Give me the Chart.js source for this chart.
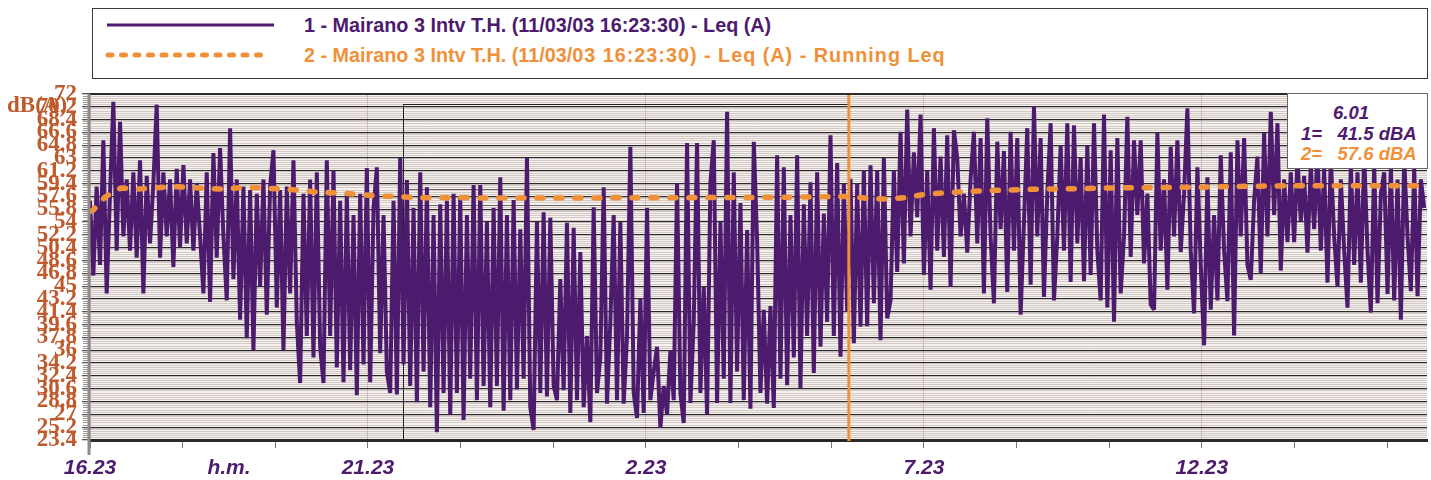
<!DOCTYPE html>
<html>
<head>
<meta charset="utf-8">
<script src="https://cdn.jsdelivr.net/npm/chart.js@4.4.0/dist/chart.umd.min.js"></script>
<style>
  body { margin: 0; background: #fff; }
  #wrap { position: relative; width: 1431px; height: 480px; overflow: hidden; }
  #chart { position: absolute; left: 0; top: 0; }
  #legend {
    position: absolute; left: 92px; top: 8px; width: 1336px; height: 71px;
    border: 1.5px solid #3a3a3a; box-sizing: border-box; background: #fff;
    font-family: "Liberation Sans", Arial, sans-serif; font-weight: bold; font-size: 19.8px;
  }
  .row { position: absolute; left: 0; height: 24px; width: 100%; }
  .row svg { position: absolute; left: 12px; top: 0; }
  .row span { position: absolute; left: 211px; top: 1px; white-space: nowrap; }
  .row span i { font-style: normal; letter-spacing: 1px; }
  #valbox {
    position: absolute; left: 1287px; top: 93px; width: 141px; height: 76px;
    border: 1.5px solid #666; box-sizing: border-box; background: #fff;
    font-family: "Liberation Sans", Arial, sans-serif; font-weight: bold; font-style: italic; font-size: 18.5px;
  }
  #valbox div { position: absolute; white-space: pre; }
</style>
</head>
<body>
<div id="wrap">
  <canvas id="chart" width="1431" height="480"></canvas>
  <div id="legend">
    <div class="row" style="top:4px">
      <svg width="180" height="24"><line x1="2" y1="12" x2="169" y2="12" stroke="#4d1b6e" stroke-width="3"/></svg>
      <span id="lab1" style="color:#4d1b6e"></span>
    </div>
    <div class="row" style="top:34px">
      <svg width="180" height="24"><line x1="3" y1="12" x2="165" y2="12" stroke="#f0913a" stroke-width="5" stroke-dasharray="4 9.5" stroke-linecap="round"/></svg>
      <span id="lab2" style="color:#f0913a"></span>
    </div>
  </div>
  <div id="valbox">
    <div id="vTime" style="left:45px; top:8px; color:#4d1b6e"></div>
    <div id="v1" style="left:13px; top:29px; color:#4d1b6e"></div>
    <div id="v2" style="left:13px; top:49px; color:#f0913a"></div>
  </div>
</div>
<script>
// series names
const seriesNames = [
  "1 - Mairano 3 Intv T.H. (11/03/03 16:23:30) - Leq (A)",
  "2 - Mairano 3 Intv T.H. (11/03/03 16:23:30) - Leq (A) - Running Leq"
];

// Leq (A), one value every 0.06 h starting at 16.23
const stepHours = 0.06;
const leqA = [
  57, 46.5, 59, 48, 65.5, 44, 58, 70.9, 50, 68.1,
  52, 60, 50, 61, 49, 62.7, 44, 60.5, 51, 59.5,
  70.5, 49, 61, 52, 60, 47.7, 61.5, 50.5, 62, 51,
  60, 50, 59.5, 52, 44, 61, 42.8, 63.7, 49, 64.4,
  52, 43, 67.2, 46, 60, 40.3, 59, 37.7, 58.5, 36,
  58, 45, 60, 41, 59, 64.1, 42, 58.5, 36, 59,
  44, 62.7, 40, 31.4, 58, 38, 60, 35, 61, 36.5,
  31.4, 62.7, 38, 61.2, 33.6, 57, 31.5, 58, 33.2, 55,
  29.7, 58, 34, 61.6, 31.5, 56, 61.7, 35.6, 55, 33,
  30, 57, 29.8, 63, 34, 59.9, 31, 56, 28.7, 61,
  33, 58.9, 28, 55, 24.5, 56.5, 30, 57, 27, 58,
  30, 57.5, 26.2, 55, 32, 59.2, 29, 59.2, 31, 54,
  28, 56, 31, 60.3, 27.5, 55, 29, 57.1, 30.5, 53,
  32, 63, 28, 24.8, 54, 30, 55.4, 29.5, 54.6, 31,
  29, 46, 30.4, 53.9, 27.2, 53.2, 29, 49.8, 28, 38,
  25.9, 56.1, 30, 35, 58.9, 28.5, 40, 55, 29, 54,
  28.5, 38, 64.6, 30, 26.5, 43.3, 27.2, 56, 29, 33,
  36.5, 25.1, 31, 27, 36, 29, 59.5, 30, 25.8, 65.1,
  28.6, 40, 65.1, 30, 44.9, 27, 59.5, 65.5, 28.6, 54,
  32, 69.5, 28.6, 61, 33, 56.7, 29, 52.9, 27.8, 65.3,
  51.5, 30, 41.7, 28.5, 42.2, 27.9, 63.4, 32, 61.7, 31.1,
  55, 35, 63.4, 30.7, 56.5, 38, 59.6, 32.8, 61, 36.5,
  55.2, 40, 66.2, 38, 62.3, 35.1, 59.4, 41.5, 60.1, 37,
  59.4, 39.3, 61.3, 39.4, 62, 42.6, 61.2, 37.4, 63, 40.5,
  43, 61.2, 47, 66.7, 48.2, 69.8, 52, 63.8, 54.7, 69.1,
  46.6, 61.2, 44.5, 67.2, 50, 63.2, 49.1, 66.2, 44.9, 66.9,
  63, 52, 58, 49.7, 60, 66.7, 51, 65.8, 44, 68.6,
  52, 42.6, 65.3, 53, 64, 44.2, 66.7, 50, 65.8, 41,
  54, 67.2, 45.2, 70.2, 52, 65.8, 43.5, 58, 67.9, 43,
  52, 64.8, 50, 67.9, 45.6, 67.6, 51, 63, 45.7, 64.8,
  46.6, 67.9, 50, 43, 69.1, 42, 64.1, 40, 65.8, 44,
  52, 68.8, 49.1, 65.5, 55, 65.5, 48.2, 58, 42.4, 41.7,
  66.5, 50, 60, 44.5, 64.6, 52, 65.5, 49.8, 58, 70,
  50, 41.2, 61.7, 48, 36.7, 60.3, 41.7, 55, 43, 63.4,
  50, 42.9, 63.8, 38.1, 65.5, 52, 65.8, 48, 45.9, 57,
  63.2, 46.8, 66.5, 52, 69.5, 55, 67.9, 47.2, 60, 51.2,
  61, 51.2, 63, 54, 60.5, 49.7, 62, 53, 64, 50,
  61.5, 45.5, 63, 52, 44.9, 60, 50, 42, 62, 48,
  61, 45.5, 63.5, 50, 41.3, 62, 42.6, 58, 61, 43.9,
  62, 43, 60, 40.3, 63, 52, 44.3, 61.5, 43.6, 60,
  56
];

// running Leq, hours after 16.23
const runHours = [0, 0.06, 0.14, 0.27, 0.41, 0.56, 0.86, 1.17, 1.44, 1.76, 2.12, 2.43, 2.79, 3.08, 3.43,
  3.78, 4.10, 4.46, 4.77, 5.13, 5.49, 5.85, 7.0, 9.0, 11.0, 12.6, 13.65, 14.05, 14.41, 14.72, 15.04,
  15.36, 15.72, 16.08, 16.44, 17.1, 17.75, 18.3, 19.0, 19.9, 20.47, 21.44, 22.5, 24.0];
const runLeq = [55.5, 55.7, 56.4, 57.5, 58.2, 58.8, 58.65, 58.8, 59.0, 58.9, 58.7, 58.65, 58.9, 58.8, 58.65,
  58.5, 58.2, 58.1, 57.95, 57.7, 57.6, 57.45, 57.4, 57.4, 57.45, 57.5, 57.6, 57.3, 57.25, 57.5, 57.95,
  58.1, 58.3, 58.4, 58.5, 58.65, 58.7, 58.8, 58.85, 58.9, 59.0, 59.1, 59.1, 59.1];

// axes
const yTicks = [72, 70.2, 68.4, 66.6, 64.8, 63, 61.2, 59.4, 57.6, 55.8, 54, 52.2, 50.4, 48.6,
  46.8, 45, 43.2, 41.4, 39.6, 37.8, 36, 34.2, 32.4, 30.6, 28.8, 27, 25.2, 23.4];
const yUnit = "dB(A)";
const xEndHours = 24.05;
const xLabelHours = [0, 5, 10, 15, 20];
const xLabelText = ["16.23", "21.23", "2.23", "7.23", "12.23"];
const xUnitHours = 2.5;
const xUnitText = "h.m.";

// cursor and zoom window
const cursorHours = 13.65;
const cursorText = "6.01";
const cursorValues = [41.5, 57.6];
const zoomFrom = 5.63;
const zoomTop = 70.6;
const bandLow = 56.4;
const bandHigh = 58.65;

document.querySelector("#lab1").textContent = seriesNames[0];
// the second label is a little wider after the date in the original
let cut = seriesNames[1].indexOf("03 16");
document.querySelector("#lab2").innerHTML = seriesNames[1].slice(0, cut) + "<i>" + seriesNames[1].slice(cut) + "</i>";
document.querySelector("#vTime").textContent = cursorText;
document.querySelector("#v1").textContent = "1=   " + cursorValues[0] + " dBA";
document.querySelector("#v2").textContent = "2=   " + cursorValues[1] + " dBA";

let purple = "#4d1b6e";
let orange = "#f0913a";
let brown = "#bf5a2c";

let leqPoints = leqA.map((v, i) => ({x: i * stepHours, y: v}));
let runPoints = runHours.map((h, i) => ({x: h, y: runLeq[i]}));
let minorTicks = [];
for (let i = 0; i <= 162; i++) {
  if (i % 6 != 0) minorTicks.push(+(23.4 + i * 0.3).toFixed(1));
}
let xTicks = [xUnitHours];
for (let k = 0; k * 5 / 3 < xEndHours; k++) xTicks.push(k * 5 / 3);
xTicks.sort((a, b) => a - b);

function isLabelHour(v) {
  return xLabelHours.some(h => Math.abs(h - v) < 0.001);
}

const extras = {
  id: "extras",
  beforeDraw(chart) {
    let {ctx, chartArea: a} = chart;
    ctx.save();
    ctx.fillStyle = "#f5f1ef";
    ctx.fillRect(a.left, a.top, a.right - a.left, a.bottom - a.top);
    ctx.restore();
  },
  beforeDatasetsDraw(chart) {
    let {ctx, scales} = chart;
    let x1 = scales.x.getPixelForValue(zoomFrom);
    let x2 = scales.x.getPixelForValue(cursorHours);
    let yt = scales.y.getPixelForValue(zoomTop);
    let yb = scales.y.getPixelForValue(23.4);
    ctx.save();
    ctx.strokeStyle = "#222";
    ctx.lineWidth = 1;
    ctx.strokeRect(Math.round(x1) + 0.5, Math.round(yt) + 0.5, x2 - x1, yb - yt);
    ctx.strokeStyle = "#6a6262";
    ctx.beginPath();
    [bandLow, bandHigh].forEach(v => {
      let y = Math.round(scales.y.getPixelForValue(v)) + 0.5;
      ctx.moveTo(x1, y);
      ctx.lineTo(x2, y);
    });
    ctx.stroke();
    ctx.restore();
  },
  afterDatasetsDraw(chart) {
    let {ctx, chartArea: a, scales} = chart;
    ctx.save();
    let cx = scales.x.getPixelForValue(cursorHours);
    ctx.strokeStyle = orange;
    ctx.lineWidth = 3;
    ctx.beginPath();
    ctx.moveTo(cx, a.top);
    ctx.lineTo(cx, a.bottom + 1);
    ctx.stroke();
    ctx.strokeStyle = "#2d2a2a";
    ctx.lineWidth = 2;
    ctx.beginPath();
    ctx.moveTo(a.left, a.top);
    ctx.lineTo(a.right, a.top);
    ctx.stroke();
    ctx.strokeStyle = "#8f8b8b";
    ctx.lineWidth = 3;
    ctx.beginPath();
    ctx.moveTo(a.left - 1, a.top);
    ctx.lineTo(a.left - 1, a.bottom + 15);
    ctx.stroke();
    ctx.fillStyle = brown;
    ctx.font = "bold 23px 'Liberation Serif', serif";
    ctx.textBaseline = "alphabetic";
    ctx.fillText(yUnit, 7, 112);
    ctx.restore();
  }
};

let ctx = document.querySelector("#chart");
let config = {
  type: "line",
  data: {
    datasets: [
      {
        label: seriesNames[0],
        data: leqPoints,
        order: 1,
        borderColor: purple,
        borderWidth: 4,
        borderJoinStyle: "bevel",
        pointRadius: 0,
        tension: 0
      },
      {
        label: seriesNames[1],
        data: runPoints,
        order: 0,
        borderColor: orange,
        borderWidth: 5.5,
        borderDash: [6, 13],
        borderCapStyle: "round",
        pointRadius: 0,
        tension: 0
      }
    ]
  },
  options: {
    responsive: false,
    animation: false,
    layout: {padding: {top: 94, right: 4, left: 0, bottom: 0}},
    plugins: {legend: {display: false}, tooltip: {enabled: false}},
    scales: {
      x: {
        type: "linear",
        min: 0,
        max: xEndHours,
        afterBuildTicks: s => { s.ticks = xTicks.map(v => ({value: v})); },
        afterFit: s => { s.height = 40; },
        ticks: {
          autoSkip: false,
          maxRotation: 0,
          padding: 8,
          color: purple,
          font: {family: "'Liberation Sans', Arial, sans-serif", size: 21, weight: "bold", style: "italic"},
          callback: v => {
            if (Math.abs(v - xUnitHours) < 0.001) return xUnitText;
            let i = xLabelHours.findIndex(h => Math.abs(h - v) < 0.001);
            return i >= 0 ? xLabelText[i] : "";
          }
        },
        grid: {
          color: c => (c.tick && isLabelHour(c.tick.value) ? "#c9bcb6" : "rgba(0,0,0,0)"),
          tickColor: c => (c.tick && Math.abs(c.tick.value - xUnitHours) < 0.001 ? "rgba(0,0,0,0)" : "#777"),
          tickLength: 8,
          lineWidth: 1
        },
        border: {color: "#2d2a2a", width: 3}
      },
      y: {
        type: "linear",
        position: "left",
        weight: 1,
        min: 23.4,
        max: 72,
        afterBuildTicks: s => { s.ticks = yTicks.map(v => ({value: v})); },
        afterFit: s => { s.width = 90; },
        ticks: {
          autoSkip: false,
          padding: 5,
          color: brown,
          font: {family: "'Liberation Serif', serif", size: 23, weight: "bold"},
          callback: v => String(Number(v.toFixed(1)))
        },
        grid: {color: "#2f2828", lineWidth: 1.3, tickLength: 8, tickColor: "#555", z: -1},
        border: {display: false}
      },
      yMinor: {
        type: "linear",
        position: "left",
        weight: 0,
        min: 23.4,
        max: 72,
        afterBuildTicks: s => { s.ticks = minorTicks.map(v => ({value: v})); },
        afterFit: s => { s.width = 0; },
        ticks: {display: false},
        grid: {color: "#d3cac6", lineWidth: 1, tickLength: 7, tickColor: "#9a9494", z: -2},
        border: {display: false}
      }
    }
  },
  plugins: [extras]
};

var myChart = new Chart(ctx, config);
</script>
</body>
</html>
